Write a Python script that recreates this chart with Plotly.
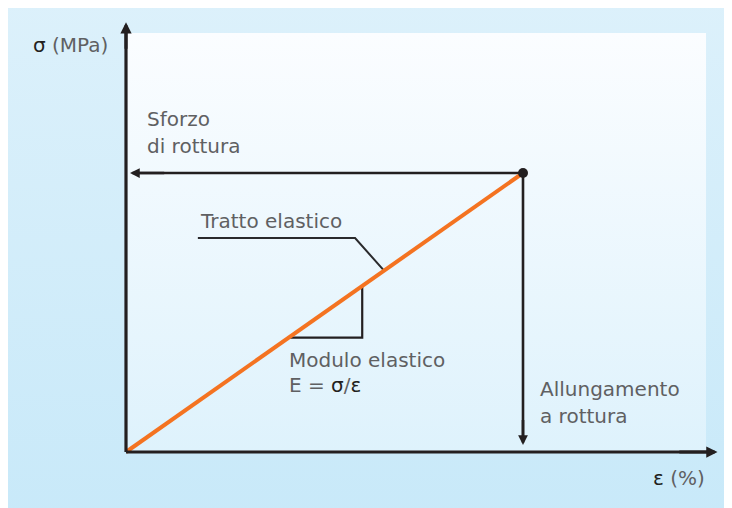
import plotly.graph_objects as go

# ---- data (conceptual stress-strain diagram) ----
strain_break = 10.0      # %, allungamento a rottura
stress_break = 100.0     # MPa, sforzo di rottura
elastic_x = [0.0, strain_break]
elastic_y = [0.0, stress_break]
slope_tri_x = [4.1, 5.95, 5.95]
slope_tri_y = [41.0, 41.0, 59.5]
leader_x = [1.81, 5.77, 6.5]
leader_y = [76.7, 76.7, 65.0]
x_axis_end = 14.9
y_axis_end = 154.0
panel_x = [0.0, 14.61]
panel_y = [0.0, 150.2]
bg_x = [-3.2, 15.6]
bg_y = [-25.0, 170.0]

FONT = "DejaVu Sans"
TXT = "#5f6062"
DARK = "#231f20"
ORANGE = "#f47321"

# px-per-unit scale of the drawing and page offset (body margin 8px)
PX_X, PX_Y = 39.7, 2.79
ORIGIN_X, ORIGIN_Y, OFF = 126, 452, 8

fig = go.Figure()

# outer light-blue background
fig.add_trace(go.Scatter(
    x=[bg_x[0], bg_x[1], bg_x[1], bg_x[0], bg_x[0]],
    y=[bg_y[0], bg_y[0], bg_y[1], bg_y[1], bg_y[0]],
    mode="lines", line=dict(width=0), fill="toself",
    fillgradient=dict(type="vertical", colorscale=[[0, "#c8e9f9"], [1, "#ddf1fb"]]),
    hoverinfo="skip", showlegend=False))
# inner panel
fig.add_trace(go.Scatter(
    x=[panel_x[0], panel_x[1], panel_x[1], panel_x[0], panel_x[0]],
    y=[panel_y[0], panel_y[0], panel_y[1], panel_y[1], panel_y[0]],
    mode="lines", line=dict(width=0), fill="toself",
    fillgradient=dict(type="vertical", colorscale=[[0, "#def2fc"], [1, "#fbfdff"]]),
    hoverinfo="skip", showlegend=False))

# slope triangle
fig.add_trace(go.Scatter(x=slope_tri_x, y=slope_tri_y, mode="lines",
                         line=dict(color=DARK, width=2.2), hoverinfo="skip", showlegend=False))
# leader line
fig.add_trace(go.Scatter(x=leader_x, y=leader_y, mode="lines",
                         line=dict(color="#2a2a2c", width=2), hoverinfo="skip", showlegend=False))
# guide lines (stress and strain at break)
fig.add_trace(go.Scatter(x=[0.2, strain_break], y=[stress_break, stress_break], mode="lines",
                         line=dict(color=DARK, width=2.6), hoverinfo="skip", showlegend=False))
fig.add_trace(go.Scatter(x=[strain_break, strain_break], y=[stress_break, 4.0], mode="lines",
                         line=dict(color=DARK, width=2.6), hoverinfo="skip", showlegend=False))
# elastic line
fig.add_trace(go.Scatter(x=elastic_x, y=elastic_y, mode="lines",
                         line=dict(color=ORANGE, width=4), hoverinfo="skip", showlegend=False))
# break point
fig.add_trace(go.Scatter(x=[strain_break], y=[stress_break], mode="markers",
                         marker=dict(color=DARK, size=10), hoverinfo="skip", showlegend=False))
# axes lines
fig.add_trace(go.Scatter(x=[0, x_axis_end - 0.15], y=[0, 0], mode="lines",
                         line=dict(color=DARK, width=3.2), hoverinfo="skip", showlegend=False))
fig.add_trace(go.Scatter(x=[0, 0], y=[0, y_axis_end - 2], mode="lines",
                         line=dict(color=DARK, width=3.2), hoverinfo="skip", showlegend=False))

def arrow(x, y, ax, ay, w):
    fig.add_annotation(x=x, y=y, ax=ax, ay=ay, xref="x", yref="y", axref="x", ayref="y",
                       text="", showarrow=True, arrowhead=2, arrowsize=0.75,
                       arrowwidth=w, arrowcolor=DARK)

arrow(x_axis_end, 0, x_axis_end - 1.0, 0, 3)
arrow(0, y_axis_end, 0, y_axis_end - 10, 3)
arrow(0.1, stress_break, 1.0, stress_break, 2.6)
arrow(strain_break, 2.5, strain_break, 12, 2.6)

def label(text, x, y, xanchor="left", size=20):
    fig.add_annotation(x=x, y=y, xref="x", yref="y", text=text, showarrow=False,
                       xanchor=xanchor, yanchor="middle", align=xanchor,
                       font=dict(family=FONT, size=size, color=TXT))

def dark(s):
    return f"<span style='color:{DARK}'>{s}</span>"

label(dark("σ") + " (MPa)", -0.40, 145.9, xanchor="right")
label("Sforzo", 0.48, 119.4)
label("di rottura", 0.48, 109.7)
label("Tratto elastico", 1.81, 82.8)
label("Modulo elastico", 4.06, 33.0)
label("E = " + dark("σ") + "/" + dark("ε"), 4.06, 24.0)
label("Allungamento", 10.38, 22.6)
label("a rottura", 10.38, 12.8)
label(dark("ε") + " (%)", 14.63, -9.3, xanchor="right")

fig.update_layout(
    width=732, height=508, margin=dict(l=0, r=0, t=0, b=0),
    paper_bgcolor="white", plot_bgcolor="white", showlegend=False,
    xaxis=dict(range=[(OFF - ORIGIN_X) / PX_X, (732 + OFF - ORIGIN_X) / PX_X],
               visible=False, fixedrange=True),
    yaxis=dict(range=[(ORIGIN_Y - 508 - OFF) / PX_Y, (ORIGIN_Y - OFF) / PX_Y],
               visible=False, fixedrange=True),
)

fig.write_html("out.html")
